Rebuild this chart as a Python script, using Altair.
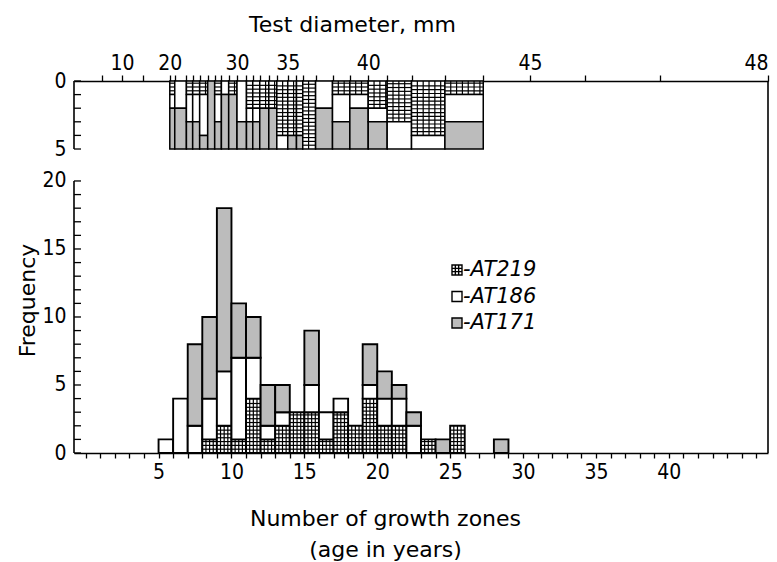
import altair as alt
import pandas as pd

FONT = "DejaVu Sans"
LFONT = "Liberation Sans Narrow, DejaVu Sans Condensed, DejaVu Sans"

series = ["AT219", "AT186", "AT171"]
fills = ["#ffffff", "#ffffff", "#bcbcbc"]
hatched = "AT219"

# ---- lower histogram: number of growth zones (bin left edge) ----
zones = [5, 6, 7, 8, 9, 10, 11, 12, 13, 14, 15, 16, 17, 18, 19, 20, 21, 22, 23, 24, 25, 26, 27, 28]
at219 = [0, 0, 0, 1, 2, 1, 4, 1, 2, 3, 3, 1, 3, 2, 4, 2, 2, 0, 1, 0, 2, 0, 0, 0]
at186 = [1, 4, 2, 3, 4, 6, 3, 1, 1, 0, 2, 2, 1, 0, 1, 2, 2, 2, 0, 0, 0, 0, 0, 0]
at171 = [0, 0, 6, 6, 12, 4, 3, 3, 2, 0, 4, 0, 0, 0, 3, 2, 1, 1, 0, 1, 0, 0, 0, 1]

# ---- upper panel: composition per test-diameter class (edges on age axis) ----
top_edges = [5.77, 6.11, 6.91, 7.34, 7.82, 8.37, 8.85, 9.31, 9.81, 10.38, 11.03, 11.46, 11.94,
             12.56, 13.11, 13.86, 14.46, 14.89, 15.77, 16.93, 18.12, 19.38, 20.68, 22.35,
             24.64, 27.27]
top_at219 = [1, 0, 1, 1, 1, 0, 1, 0, 1, 0, 2, 2, 2, 2, 4, 4, 4, 5, 0, 1, 1, 2, 3, 4, 1]
top_at186 = [1, 2, 2, 2, 3, 0, 2, 1, 0, 3, 1, 1, 0, 0, 1, 0, 0, 0, 2, 2, 1, 1, 2, 1, 2]
top_at171 = [3, 3, 2, 2, 1, 5, 2, 4, 4, 2, 2, 2, 3, 3, 0, 1, 1, 0, 3, 2, 3, 2, 0, 0, 2]

# top axis (test diameter) tick positions and labels
diam_minor = [1.1, 3.95, 34.25, 39.4]
diam_label_pos = [2.5, 5.77, 10.38, 13.86, 19.38, 30.47, 46.8]
diam_labels = ["10", "20", "30", "35", "40", "45", "48"]

freq_labels = [0, 5, 10, 15, 20]
X_DOMAIN = [-0.8, 46.8]
TOP = 27.35          # level of the upper panel's zero line
DEPTH = 5
W, H = 694, 372

# ---------- build tables ----------
rows = []
for i, z in enumerate(zones):
    base = 0
    for s, v in zip(series, [at219[i], at186[i], at171[i]]):
        if v > 0:
            rows.append({"x0": z, "x1": z + 1, "y0": base, "y1": base + v, "series": s, "panel": "low"})
        base += v
bottom_df = pd.DataFrame(rows)

rows = []
for i in range(len(top_edges) - 1):
    acc = 0
    for s, v in zip(series, [top_at219[i], top_at186[i], top_at171[i]]):
        if v > 0:
            rows.append({"x0": top_edges[i], "x1": top_edges[i + 1],
                         "y0": TOP - acc - v, "y1": TOP - acc, "series": s, "panel": "top"})
        acc += v
top_df = pd.DataFrame(rows)

# cross-hatch texture lines for the hatched series (derived from the rectangles)
hrows, vrows = [], []
for r in pd.concat([bottom_df, top_df]).itertuples():
    if r.series != hatched:
        continue
    hstep = 0.28
    vstep = 0.25 if r.panel == "low" else 0.4
    y = r.y0 + hstep
    while y < r.y1 - 0.08:
        hrows.append({"x0": r.x0, "x1": r.x1, "y": y})
        y += hstep
    x = r.x0 + vstep
    while x < r.x1 - 0.08:
        vrows.append({"x": x, "y0": r.y0, "y1": r.y1})
        x += vstep
hatch_h = pd.DataFrame(hrows)
hatch_v = pd.DataFrame(vrows)

xscale = alt.Scale(domain=X_DOMAIN, nice=False, zero=False)
yscale = alt.Scale(domain=[0, TOP], nice=False, zero=False)
cscale = alt.Scale(domain=series, range=fills)
grid_sym = "M-1,-1H1V1H-1Z M-0.33,-1V1 M0.33,-1V1 M-1,-0.33H1 M-1,0.33H1"
symbols = [grid_sym, "square", "square"]

bottom_axis = alt.Axis(
    values=list(range(0, 47)),
    labelExpr="(datum.value % 5 == 0 && datum.value >= 5 && datum.value <= 40) ? datum.value : ''",
    labelOverlap=False, labelFlush=False, grid=False,
    tickSize=5, tickWidth=1.3, domainWidth=1.6, labelFontSize=21, labelPadding=3, labelFont=LFONT,
    title=["Number of growth zones", "(age in years)"], titleFontSize=22, titleFontWeight="normal",
    titleX=311, titleY=72, titleAlign="center", titleBaseline="alphabetic", titleLineHeight=31,
)

top_ticks = sorted(set(diam_minor + diam_label_pos + top_edges))
top_expr = " : ".join([f"datum.value == {p} ? '{l}'" for p, l in zip(diam_label_pos, diam_labels)]) + " : ''"
top_axis = alt.Axis(
    orient="top", values=top_ticks, labelExpr=top_expr, labelOverlap=False, labelFlush=True,
    grid=False, tickSize=6, tickWidth=1.3, domainWidth=1.6, labelFontSize=21, labelPadding=2,
    labelFont=LFONT,
    title="Test diameter, mm", titleFontSize=22, titleFontWeight="normal",
    titleX=278, titleY=-50, titleAlign="center", titleBaseline="alphabetic",
)

left_vals = freq_labels + [TOP - DEPTH, TOP]
left_axis = alt.Axis(
    values=left_vals,
    labelExpr=f"datum.value > 21 ? format({TOP} - datum.value, 'd') : format(datum.value, 'd')",
    ticks=False, domain=False, grid=False, labelFontSize=21, labelPadding=8, labelFont=LFONT,
    labelOverlap=False,
    title="Frequency", titleFontSize=22, titleFontWeight="normal",
    titleX=-47, titleY=219, titleAngle=270, titleAlign="center", titleBaseline="middle",
)

def Y(field):
    return alt.Y(field, scale=yscale, axis=left_axis)

bars = alt.Chart(bottom_df).mark_rect(stroke="black", strokeWidth=1.9).encode(
    x=alt.X("x0:Q", scale=xscale, axis=bottom_axis),
    x2="x1:Q",
    y=Y("y0:Q"),
    y2="y1:Q",
    color=alt.Color("series:N", scale=cscale, legend=None),
)

cols = alt.Chart(top_df).mark_rect(stroke="black", strokeWidth=1.5).encode(
    x=alt.X("x0:Q", scale=xscale, axis=top_axis),
    x2="x1:Q",
    y=Y("y0:Q"),
    y2="y1:Q",
    color=alt.Color("series:N", scale=cscale, legend=None),
)

hatch1 = alt.Chart(hatch_h).mark_rule(color="black", strokeWidth=1.2).encode(
    x=alt.X("x0:Q", scale=xscale, axis=None), x2="x1:Q", y=Y("y:Q"))
hatch2 = alt.Chart(hatch_v).mark_rule(color="black", strokeWidth=1.2).encode(
    x=alt.X("x:Q", scale=xscale, axis=None), y=Y("y0:Q"), y2="y1:Q")

# hand-made key (symbol + italic label per series)
key_layers = []
for i, s in enumerate(series):
    ypix = 189 + i * 26.5
    d = pd.DataFrame({"label": ["-" + s]})
    key_layers.append(
        alt.Chart(d).mark_point(shape=symbols[i], size=100, filled=True, fill=fills[i],
                                stroke="black", strokeWidth=1.4, opacity=1)
        .encode(x=alt.value(383), y=alt.value(ypix)))
    key_layers.append(
        alt.Chart(d).mark_text(align="left", baseline="middle", fontSize=21, fontStyle="italic",
                               font=FONT, color="black")
        .encode(text="label:N", x=alt.value(389), y=alt.value(ypix)))

# left axis lines (two segments) and inward ticks
seg_df = pd.DataFrame({"a": [0, TOP - DEPTH], "b": [max(freq_labels), TOP]})
left_lines = alt.Chart(seg_df).mark_rule(color="black", strokeWidth=1.6).encode(
    x=alt.value(0), y=Y("a:Q"), y2="b:Q")

tick_df = pd.DataFrame({"v": list(range(0, max(freq_labels) + 1)) + [TOP - k for k in range(DEPTH + 1)]})
left_ticks = alt.Chart(tick_df).mark_rule(color="black", strokeWidth=1.3).encode(
    x=alt.value(0), x2=alt.value(7), y=Y("v:Q"))

right_line = alt.Chart(pd.DataFrame({"k": [0]})).mark_rule(color="black", strokeWidth=1.6).encode(
    x=alt.value(W), y=alt.value(0), y2=alt.value(H))

chart = alt.layer(bars, cols, hatch1, hatch2, left_lines, left_ticks, right_line, *key_layers).resolve_axis(
    x="independent"
).properties(
    width=W, height=H,
    autosize=alt.AutoSizeParams(type="none"),
    padding={"left": 74, "top": 81, "right": 777 - 74 - W, "bottom": 562 - 81 - H},
).configure_view(stroke=None).configure_axis(
    domainColor="black", tickColor="black", labelColor="black", titleColor="black",
    titleFont=FONT,
)

chart.save("out.html", embed_options={"renderer": "svg", "actions": False})
